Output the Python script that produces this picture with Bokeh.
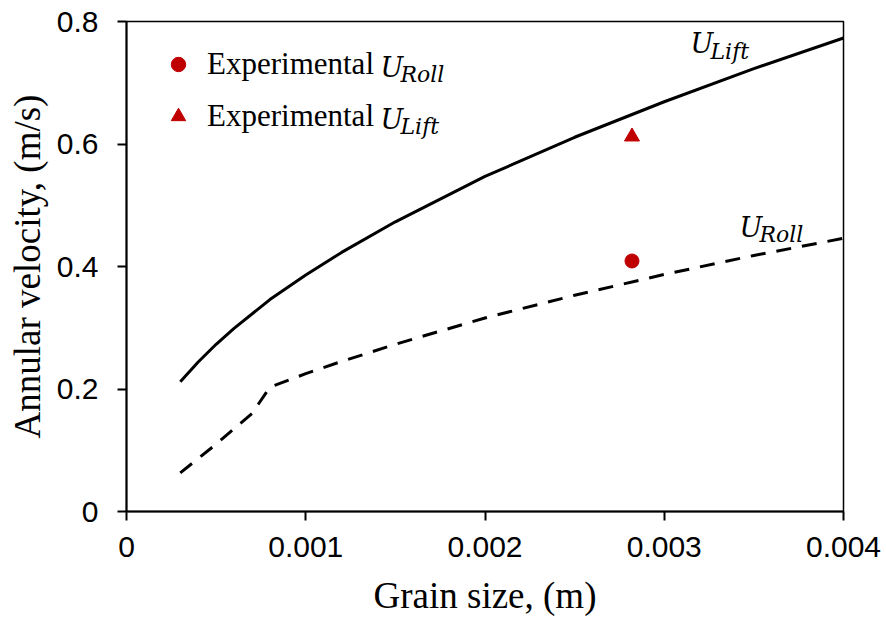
from bokeh.plotting import figure
from bokeh.models import (Range1d, FixedTicker, PrintfTickFormatter, Legend, LegendItem, Label)
from bokeh.embed import file_html
from bokeh.resources import INLINE

# ---- data ----
grain_lift = [0.0003, 0.0004, 0.0005, 0.0006, 0.0008, 0.001, 0.0012, 0.0015,
              0.002, 0.0025, 0.003, 0.0035, 0.004]
u_lift = [0.212, 0.244, 0.273, 0.299, 0.346, 0.386, 0.423, 0.473,
          0.547, 0.611, 0.669, 0.723, 0.773]

grain_roll = [0.0003, 0.0005, 0.0007, 0.0008, 0.001, 0.0012, 0.0015,
              0.002, 0.0025, 0.003, 0.0035, 0.004]
u_roll = [0.063, 0.110, 0.160, 0.203, 0.225, 0.245, 0.273,
          0.316, 0.353, 0.387, 0.418, 0.446]

exp_grain = [0.00282]
exp_roll = [0.409]
exp_lift = [0.612]

x_ticks = [0, 0.001, 0.002, 0.003, 0.004]
y_ticks = [0, 0.2, 0.4, 0.6, 0.8]

RED = "#C00000"

p = figure(frame_width=717, frame_height=490, output_backend="svg",
           toolbar_location=None,
           x_range=Range1d(0, 0.004), y_range=Range1d(0, 0.8),
           min_border_left=126, min_border_right=40, min_border_top=21,
           min_border_bottom=105)
p.grid.visible = False
p.outline_line_color = "black"
p.outline_line_width = 1.5

for ax in (p.xaxis[0], p.yaxis[0]):
    ax.axis_line_width = 2
    ax.axis_line_color = "black"
    ax.major_tick_line_width = 2
    ax.major_tick_line_color = "black"
    ax.major_tick_out = 9
    ax.major_tick_in = 0
    ax.minor_tick_line_color = None
    ax.major_label_text_font = "Liberation Sans"
    ax.major_label_text_font_size = "30px"
    ax.major_label_text_color = "black"
    ax.axis_label_text_font = "Liberation Serif"
    ax.axis_label_text_font_size = "37px"
    ax.axis_label_text_font_style = "normal"
    ax.axis_label_text_color = "black"
    ax.formatter = PrintfTickFormatter(format="%g")

p.xaxis[0].ticker = FixedTicker(ticks=x_ticks)
p.yaxis[0].ticker = FixedTicker(ticks=y_ticks)
p.xaxis[0].axis_label = "Grain size, (m)"
p.yaxis[0].axis_label = "Annular velocity, (m/s)"
p.xaxis[0].major_label_standoff = 16
p.yaxis[0].major_label_standoff = 19
p.xaxis[0].axis_label_standoff = 15
p.yaxis[0].axis_label_standoff = 6

p.line(grain_lift, u_lift, line_color="black", line_width=3)
p.line(grain_roll, u_roll, line_color="black", line_width=3, line_dash="15 11",
       line_cap="butt")

r_roll = p.scatter(exp_grain, exp_roll, marker="circle", size=14,
                   fill_color=RED, line_color=RED)
r_lift = p.scatter(exp_grain, exp_lift, marker="triangle", size=15,
                   fill_color=RED, line_color=RED)

legend = Legend(items=[LegendItem(label="Experimental", renderers=[r_roll]),
                       LegendItem(label="Experimental", renderers=[r_lift])],
                location=(34, 371), padding=0, margin=0, spacing=4,
                glyph_width=36, glyph_height=48, label_height=48,
                label_standoff=11,
                label_text_font="Liberation Serif", label_text_font_size="31px",
                label_text_color="black",
                border_line_alpha=0, background_fill_alpha=0)
p.add_layout(legend, "center")

YFIX = 8

def math_label(x, y, base, sub, dx=20, dy=7):
    p.add_layout(Label(x=x, y=y + YFIX, x_units="screen", y_units="screen",
                       text=base, text_font="DejaVu Serif",
                       text_font_style="italic", text_font_size="27px",
                       text_color="black", text_baseline="alphabetic",
                       text_align="left"))
    p.add_layout(Label(x=x + dx, y=y - dy + YFIX, x_units="screen",
                       y_units="screen", text=sub, text_font="DejaVu Serif",
                       text_font_style="italic", text_font_size="22px",
                       text_color="black", text_baseline="alphabetic",
                       text_align="left"))

math_label(254, 436, "U", "Roll")
math_label(254, 384, "U", "Lift")
math_label(564, 460, "U", "Lift", dy=8)
math_label(613, 276, "U", "Roll")

open("out.html", "w").write(file_html(p, INLINE))
